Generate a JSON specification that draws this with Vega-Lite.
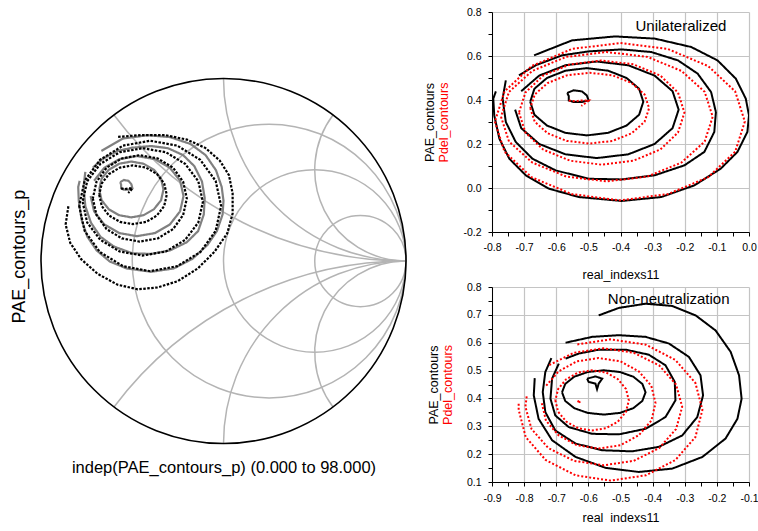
{
"$schema": "https://vega.github.io/schema/vega-lite/v6.json",
"background": "white",
"padding": {"left": 10, "top": 7, "right": 0, "bottom": 0},
"config": {
  "font": "Liberation Sans",
  "view": {"stroke": null},
  "axis": {"labelFont": "Liberation Sans", "titleFont": "Liberation Sans", "labelFontSize": 10.5, "titleFontSize": 12.5, "titleFontWeight": "normal", "labelColor": "#000", "titleColor": "#000", "tickColor": "#000", "domainColor": "#000", "domainWidth": 1, "tickWidth": 1, "tickSize": 4, "gridColor": "#c4c4c4", "gridWidth": 1.2, "labelOverlap": false, "labelFlush": false, "labelBound": false}
},
"datasets": {
  "grid": [
    {"cx": 0.25, "cy": 0, "r": 0.75, "t1": 0, "t2": 6.2832},
    {"cx": 0.5, "cy": 0, "r": 0.5, "t1": 0, "t2": 6.2832},
    {"cx": 0.75, "cy": 0, "r": 0.25, "t1": 0, "t2": 6.2832},
    {"cx": 1, "cy": 2, "r": 2, "t1": 3.1416, "t2": 4.0689},
    {"cx": 1, "cy": 1, "r": 1, "t1": 3.1416, "t2": 4.7124},
    {"cx": 1, "cy": 0.5, "r": 0.5, "t1": 3.1416, "t2": 5.3559},
    {"cx": 1, "cy": -2, "r": 2, "t1": -0.9273, "t2": 0},
    {"cx": 1, "cy": -1, "r": 1, "t1": -1.5708, "t2": 0},
    {"cx": 1, "cy": -0.5, "r": 0.5, "t1": -2.2143, "t2": 0}
  ],
  "uni": [
    {"k":"P1","s":"P","i":0,"x":-0.788,"y":0.439},{"k":"P1","s":"P","i":1,"x":-0.796,"y":0.406},{"k":"P1","s":"P","i":2,"x":-0.793,"y":0.330},{"k":"P1","s":"P","i":3,"x":-0.777,"y":0.224},{"k":"P1","s":"P","i":4,"x":-0.746,"y":0.133},{"k":"P1","s":"P","i":5,"x":-0.695,"y":0.058},{"k":"P1","s":"P","i":6,"x":-0.623,"y":-0.003},{"k":"P1","s":"P","i":7,"x":-0.530,"y":-0.041},{"k":"P1","s":"P","i":8,"x":-0.396,"y":-0.059},{"k":"P1","s":"P","i":9,"x":-0.273,"y":-0.041},{"k":"P1","s":"P","i":10,"x":-0.170,"y":0.012},{"k":"P1","s":"P","i":11,"x":-0.088,"y":0.088},{"k":"P1","s":"P","i":12,"x":-0.036,"y":0.164},{"k":"P1","s":"P","i":13,"x":-0.005,"y":0.255},{"k":"P1","s":"P","i":14,"x":0.000,"y":0.330},{"k":"P1","s":"P","i":15,"x":-0.010,"y":0.406},{"k":"P1","s":"P","i":16,"x":-0.041,"y":0.497},{"k":"P1","s":"P","i":17,"x":-0.098,"y":0.580},{"k":"P1","s":"P","i":18,"x":-0.180,"y":0.641},{"k":"P1","s":"P","i":19,"x":-0.293,"y":0.679},{"k":"P1","s":"P","i":20,"x":-0.417,"y":0.689},{"k":"P1","s":"P","i":21,"x":-0.551,"y":0.671},{"k":"P1","s":"P","i":22,"x":-0.669,"y":0.603},
    {"k":"P2","s":"P","i":0,"x":-0.757,"y":0.489},{"k":"P2","s":"P","i":1,"x":-0.767,"y":0.406},{"k":"P2","s":"P","i":2,"x":-0.757,"y":0.300},{"k":"P2","s":"P","i":3,"x":-0.726,"y":0.209},{"k":"P2","s":"P","i":4,"x":-0.674,"y":0.133},{"k":"P2","s":"P","i":5,"x":-0.602,"y":0.080},{"k":"P2","s":"P","i":6,"x":-0.499,"y":0.042},{"k":"P2","s":"P","i":7,"x":-0.396,"y":0.039},{"k":"P2","s":"P","i":8,"x":-0.293,"y":0.058},{"k":"P2","s":"P","i":9,"x":-0.201,"y":0.103},{"k":"P2","s":"P","i":10,"x":-0.139,"y":0.164},{"k":"P2","s":"P","i":11,"x":-0.108,"y":0.255},{"k":"P2","s":"P","i":12,"x":-0.103,"y":0.345},{"k":"P2","s":"P","i":13,"x":-0.118,"y":0.436},{"k":"P2","s":"P","i":14,"x":-0.160,"y":0.520},{"k":"P2","s":"P","i":15,"x":-0.221,"y":0.580},{"k":"P2","s":"P","i":16,"x":-0.304,"y":0.618},{"k":"P2","s":"P","i":17,"x":-0.396,"y":0.630},{"k":"P2","s":"P","i":18,"x":-0.499,"y":0.621},{"k":"P2","s":"P","i":19,"x":-0.582,"y":0.603},{"k":"P2","s":"P","i":20,"x":-0.664,"y":0.558},{"k":"P2","s":"P","i":21,"x":-0.716,"y":0.512},
    {"k":"P3","s":"P","i":0,"x":-0.728,"y":0.356},{"k":"P3","s":"P","i":1,"x":-0.709,"y":0.272},{"k":"P3","s":"P","i":2,"x":-0.653,"y":0.200},{"k":"P3","s":"P","i":3,"x":-0.571,"y":0.153},{"k":"P3","s":"P","i":4,"x":-0.474,"y":0.136},{"k":"P3","s":"P","i":5,"x":-0.376,"y":0.153},{"k":"P3","s":"P","i":6,"x":-0.294,"y":0.200},{"k":"P3","s":"P","i":7,"x":-0.238,"y":0.272},{"k":"P3","s":"P","i":8,"x":-0.219,"y":0.356},{"k":"P3","s":"P","i":9,"x":-0.238,"y":0.440},{"k":"P3","s":"P","i":10,"x":-0.294,"y":0.511},{"k":"P3","s":"P","i":11,"x":-0.376,"y":0.558},{"k":"P3","s":"P","i":12,"x":-0.474,"y":0.575},{"k":"P3","s":"P","i":13,"x":-0.571,"y":0.558},{"k":"P3","s":"P","i":14,"x":-0.653,"y":0.511},{"k":"P3","s":"P","i":15,"x":-0.709,"y":0.440},
    {"k":"P4","s":"P","i":0,"x":-0.681,"y":0.392},{"k":"P4","s":"P","i":1,"x":-0.668,"y":0.333},{"k":"P4","s":"P","i":2,"x":-0.629,"y":0.284},{"k":"P4","s":"P","i":3,"x":-0.572,"y":0.251},{"k":"P4","s":"P","i":4,"x":-0.505,"y":0.239},{"k":"P4","s":"P","i":5,"x":-0.438,"y":0.251},{"k":"P4","s":"P","i":6,"x":-0.381,"y":0.284},{"k":"P4","s":"P","i":7,"x":-0.342,"y":0.333},{"k":"P4","s":"P","i":8,"x":-0.329,"y":0.392},{"k":"P4","s":"P","i":9,"x":-0.342,"y":0.451},{"k":"P4","s":"P","i":10,"x":-0.381,"y":0.500},{"k":"P4","s":"P","i":11,"x":-0.438,"y":0.533},{"k":"P4","s":"P","i":12,"x":-0.505,"y":0.545},{"k":"P4","s":"P","i":13,"x":-0.572,"y":0.533},{"k":"P4","s":"P","i":14,"x":-0.629,"y":0.500},{"k":"P4","s":"P","i":15,"x":-0.668,"y":0.451},{"k":"P4","s":"P","i":16,"x":-0.681,"y":0.392},
    {"k":"P5","s":"P","i":0,"x":-0.566,"y":0.432},{"k":"P5","s":"P","i":1,"x":-0.546,"y":0.444},{"k":"P5","s":"P","i":2,"x":-0.520,"y":0.439},{"k":"P5","s":"P","i":3,"x":-0.505,"y":0.421},{"k":"P5","s":"P","i":4,"x":-0.499,"y":0.398},{"k":"P5","s":"P","i":5,"x":-0.520,"y":0.391},{"k":"P5","s":"P","i":6,"x":-0.546,"y":0.391},{"k":"P5","s":"P","i":7,"x":-0.561,"y":0.398},{"k":"P5","s":"P","i":8,"x":-0.561,"y":0.418},{"k":"P5","s":"P","i":9,"x":-0.566,"y":0.432},
    {"k":"D1","s":"D","i":0,"x":-0.791,"y":0.302},{"k":"D1","s":"D","i":1,"x":-0.761,"y":0.165},{"k":"D1","s":"D","i":2,"x":-0.677,"y":0.049},{"k":"D1","s":"D","i":3,"x":-0.551,"y":-0.028},{"k":"D1","s":"D","i":4,"x":-0.402,"y":-0.056},{"k":"D1","s":"D","i":5,"x":-0.253,"y":-0.028},{"k":"D1","s":"D","i":6,"x":-0.127,"y":0.049},{"k":"D1","s":"D","i":7,"x":-0.043,"y":0.165},{"k":"D1","s":"D","i":8,"x":-0.013,"y":0.302},{"k":"D1","s":"D","i":9,"x":-0.043,"y":0.439},{"k":"D1","s":"D","i":10,"x":-0.127,"y":0.554},{"k":"D1","s":"D","i":11,"x":-0.253,"y":0.632},{"k":"D1","s":"D","i":12,"x":-0.402,"y":0.659},{"k":"D1","s":"D","i":13,"x":-0.551,"y":0.632},{"k":"D1","s":"D","i":14,"x":-0.677,"y":0.554},{"k":"D1","s":"D","i":15,"x":-0.761,"y":0.439},{"k":"D1","s":"D","i":16,"x":-0.791,"y":0.302},
    {"k":"D2","s":"D","i":0,"x":-0.772,"y":0.324},{"k":"D2","s":"D","i":1,"x":-0.747,"y":0.211},{"k":"D2","s":"D","i":2,"x":-0.675,"y":0.116},{"k":"D2","s":"D","i":3,"x":-0.569,"y":0.052},{"k":"D2","s":"D","i":4,"x":-0.443,"y":0.030},{"k":"D2","s":"D","i":5,"x":-0.316,"y":0.052},{"k":"D2","s":"D","i":6,"x":-0.210,"y":0.116},{"k":"D2","s":"D","i":7,"x":-0.138,"y":0.211},{"k":"D2","s":"D","i":8,"x":-0.113,"y":0.324},{"k":"D2","s":"D","i":9,"x":-0.138,"y":0.437},{"k":"D2","s":"D","i":10,"x":-0.210,"y":0.532},{"k":"D2","s":"D","i":11,"x":-0.316,"y":0.596},{"k":"D2","s":"D","i":12,"x":-0.443,"y":0.618},{"k":"D2","s":"D","i":13,"x":-0.569,"y":0.596},{"k":"D2","s":"D","i":14,"x":-0.675,"y":0.532},{"k":"D2","s":"D","i":15,"x":-0.747,"y":0.437},{"k":"D2","s":"D","i":16,"x":-0.772,"y":0.324},
    {"k":"D3","s":"D","i":0,"x":-0.716,"y":0.343},{"k":"D3","s":"D","i":1,"x":-0.696,"y":0.252},{"k":"D3","s":"D","i":2,"x":-0.641,"y":0.175},{"k":"D3","s":"D","i":3,"x":-0.557,"y":0.124},{"k":"D3","s":"D","i":4,"x":-0.459,"y":0.106},{"k":"D3","s":"D","i":5,"x":-0.360,"y":0.124},{"k":"D3","s":"D","i":6,"x":-0.276,"y":0.175},{"k":"D3","s":"D","i":7,"x":-0.221,"y":0.252},{"k":"D3","s":"D","i":8,"x":-0.201,"y":0.343},{"k":"D3","s":"D","i":9,"x":-0.221,"y":0.434},{"k":"D3","s":"D","i":10,"x":-0.276,"y":0.511},{"k":"D3","s":"D","i":11,"x":-0.360,"y":0.562},{"k":"D3","s":"D","i":12,"x":-0.459,"y":0.580},{"k":"D3","s":"D","i":13,"x":-0.557,"y":0.562},{"k":"D3","s":"D","i":14,"x":-0.641,"y":0.511},{"k":"D3","s":"D","i":15,"x":-0.696,"y":0.434},{"k":"D3","s":"D","i":16,"x":-0.716,"y":0.343},
    {"k":"D4","s":"D","i":0,"x":-0.681,"y":0.363},{"k":"D4","s":"D","i":1,"x":-0.667,"y":0.301},{"k":"D4","s":"D","i":2,"x":-0.627,"y":0.249},{"k":"D4","s":"D","i":3,"x":-0.567,"y":0.214},{"k":"D4","s":"D","i":4,"x":-0.496,"y":0.202},{"k":"D4","s":"D","i":5,"x":-0.425,"y":0.214},{"k":"D4","s":"D","i":6,"x":-0.365,"y":0.249},{"k":"D4","s":"D","i":7,"x":-0.325,"y":0.301},{"k":"D4","s":"D","i":8,"x":-0.311,"y":0.363},{"k":"D4","s":"D","i":9,"x":-0.325,"y":0.425},{"k":"D4","s":"D","i":10,"x":-0.365,"y":0.477},{"k":"D4","s":"D","i":11,"x":-0.425,"y":0.512},{"k":"D4","s":"D","i":12,"x":-0.496,"y":0.524},{"k":"D4","s":"D","i":13,"x":-0.567,"y":0.512},{"k":"D4","s":"D","i":14,"x":-0.627,"y":0.477},{"k":"D4","s":"D","i":15,"x":-0.667,"y":0.425},{"k":"D4","s":"D","i":16,"x":-0.681,"y":0.363},
    {"k":"D5","s":"D","i":0,"x":-0.561,"y":0.398},{"k":"D5","s":"D","i":1,"x":-0.541,"y":0.394},{"k":"D5","s":"D","i":2,"x":-0.520,"y":0.398},{"k":"D5","s":"D","i":3,"x":-0.499,"y":0.398},{"k":"D5","s":"D","i":4,"x":-0.510,"y":0.385},{"k":"D5","s":"D","i":5,"x":-0.522,"y":0.373}
  ],
  "extra": [
    {"k":"D0","s":"D","i":0,"x":-0.85,"y":0.30},{"k":"D0","s":"D","i":1,"x":-0.865,"y":0.20},{"k":"D0","s":"D","i":2,"x":-0.84,"y":0.10},{"k":"D0","s":"D","i":3,"x":-0.78,"y":0.01},{"k":"D0","s":"D","i":4,"x":-0.69,"y":-0.07},{"k":"D0","s":"D","i":5,"x":-0.58,"y":-0.13},{"k":"D0","s":"D","i":6,"x":-0.47,"y":-0.155},{"k":"D0","s":"D","i":7,"x":-0.36,"y":-0.145},{"k":"D0","s":"D","i":8,"x":-0.25,"y":-0.11},{"k":"D0","s":"D","i":9,"x":-0.14,"y":-0.04},{"k":"D0","s":"D","i":10,"x":-0.05,"y":0.05},{"k":"D0","s":"D","i":11,"x":0.02,"y":0.15},{"k":"D0","s":"D","i":12,"x":0.05,"y":0.26},{"k":"D0","s":"D","i":13,"x":0.05,"y":0.37},{"k":"D0","s":"D","i":14,"x":0.03,"y":0.47},{"k":"D0","s":"D","i":15,"x":-0.02,"y":0.55},{"k":"D0","s":"D","i":16,"x":-0.10,"y":0.62},{"k":"D0","s":"D","i":17,"x":-0.20,"y":0.665},{"k":"D0","s":"D","i":18,"x":-0.32,"y":0.69},{"k":"D0","s":"D","i":19,"x":-0.45,"y":0.69},{"k":"D0","s":"D","i":20,"x":-0.58,"y":0.68}
  ],
  "non": [
    {"k":"P1","s":"P","i":0,"x":-0.767,"y":0.473},{"k":"P1","s":"P","i":1,"x":-0.770,"y":0.411},{"k":"P1","s":"P","i":2,"x":-0.755,"y":0.327},{"k":"P1","s":"P","i":3,"x":-0.713,"y":0.250},{"k":"P1","s":"P","i":4,"x":-0.640,"y":0.190},{"k":"P1","s":"P","i":5,"x":-0.547,"y":0.151},{"k":"P1","s":"P","i":6,"x":-0.443,"y":0.136},{"k":"P1","s":"P","i":7,"x":-0.339,"y":0.148},{"k":"P1","s":"P","i":8,"x":-0.245,"y":0.190},{"k":"P1","s":"P","i":9,"x":-0.173,"y":0.256},{"k":"P1","s":"P","i":10,"x":-0.136,"y":0.327},{"k":"P1","s":"P","i":11,"x":-0.123,"y":0.399},{"k":"P1","s":"P","i":12,"x":-0.131,"y":0.483},{"k":"P1","s":"P","i":13,"x":-0.157,"y":0.567},{"k":"P1","s":"P","i":14,"x":-0.204,"y":0.644},{"k":"P1","s":"P","i":15,"x":-0.266,"y":0.698},{"k":"P1","s":"P","i":16,"x":-0.339,"y":0.732},{"k":"P1","s":"P","i":17,"x":-0.422,"y":0.740},{"k":"P1","s":"P","i":18,"x":-0.505,"y":0.725},{"k":"P1","s":"P","i":19,"x":-0.568,"y":0.698},
    {"k":"P2","s":"P","i":0,"x":-0.715,"y":0.545},{"k":"P2","s":"P","i":1,"x":-0.734,"y":0.495},{"k":"P2","s":"P","i":2,"x":-0.742,"y":0.423},{"k":"P2","s":"P","i":3,"x":-0.734,"y":0.351},{"k":"P2","s":"P","i":4,"x":-0.703,"y":0.285},{"k":"P2","s":"P","i":5,"x":-0.640,"y":0.238},{"k":"P2","s":"P","i":6,"x":-0.557,"y":0.214},{"k":"P2","s":"P","i":7,"x":-0.464,"y":0.210},{"k":"P2","s":"P","i":8,"x":-0.381,"y":0.226},{"k":"P2","s":"P","i":9,"x":-0.308,"y":0.267},{"k":"P2","s":"P","i":10,"x":-0.261,"y":0.333},{"k":"P2","s":"P","i":11,"x":-0.243,"y":0.411},{"k":"P2","s":"P","i":12,"x":-0.251,"y":0.483},{"k":"P2","s":"P","i":13,"x":-0.287,"y":0.549},{"k":"P2","s":"P","i":14,"x":-0.349,"y":0.597},{"k":"P2","s":"P","i":15,"x":-0.422,"y":0.621},{"k":"P2","s":"P","i":16,"x":-0.505,"y":0.627},{"k":"P2","s":"P","i":17,"x":-0.588,"y":0.621},{"k":"P2","s":"P","i":18,"x":-0.671,"y":0.600},
    {"k":"P3","s":"P","i":0,"x":-0.692,"y":0.525},{"k":"P3","s":"P","i":1,"x":-0.713,"y":0.471},{"k":"P3","s":"P","i":2,"x":-0.718,"y":0.399},{"k":"P3","s":"P","i":3,"x":-0.703,"y":0.339},{"k":"P3","s":"P","i":4,"x":-0.661,"y":0.297},{"k":"P3","s":"P","i":5,"x":-0.588,"y":0.273},{"k":"P3","s":"P","i":6,"x":-0.505,"y":0.271},{"k":"P3","s":"P","i":7,"x":-0.422,"y":0.291},{"k":"P3","s":"P","i":8,"x":-0.360,"y":0.333},{"k":"P3","s":"P","i":9,"x":-0.329,"y":0.393},{"k":"P3","s":"P","i":10,"x":-0.331,"y":0.459},{"k":"P3","s":"P","i":11,"x":-0.360,"y":0.519},{"k":"P3","s":"P","i":12,"x":-0.412,"y":0.557},{"k":"P3","s":"P","i":13,"x":-0.484,"y":0.575},{"k":"P3","s":"P","i":14,"x":-0.568,"y":0.575},{"k":"P3","s":"P","i":15,"x":-0.630,"y":0.561},{"k":"P3","s":"P","i":16,"x":-0.671,"y":0.543},
    {"k":"P4","s":"P","i":0,"x":-0.682,"y":0.422},{"k":"P4","s":"P","i":1,"x":-0.672,"y":0.391},{"k":"P4","s":"P","i":2,"x":-0.644,"y":0.365},{"k":"P4","s":"P","i":3,"x":-0.602,"y":0.348},{"k":"P4","s":"P","i":4,"x":-0.552,"y":0.342},{"k":"P4","s":"P","i":5,"x":-0.502,"y":0.348},{"k":"P4","s":"P","i":6,"x":-0.460,"y":0.365},{"k":"P4","s":"P","i":7,"x":-0.432,"y":0.391},{"k":"P4","s":"P","i":8,"x":-0.422,"y":0.422},{"k":"P4","s":"P","i":9,"x":-0.432,"y":0.452},{"k":"P4","s":"P","i":10,"x":-0.460,"y":0.478},{"k":"P4","s":"P","i":11,"x":-0.502,"y":0.495},{"k":"P4","s":"P","i":12,"x":-0.552,"y":0.501},{"k":"P4","s":"P","i":13,"x":-0.602,"y":0.495},{"k":"P4","s":"P","i":14,"x":-0.644,"y":0.478},{"k":"P4","s":"P","i":15,"x":-0.672,"y":0.452},{"k":"P4","s":"P","i":16,"x":-0.682,"y":0.422},
    {"k":"P5","s":"P","i":0,"x":-0.604,"y":0.471},{"k":"P5","s":"P","i":1,"x":-0.578,"y":0.479},{"k":"P5","s":"P","i":2,"x":-0.557,"y":0.471},{"k":"P5","s":"P","i":3,"x":-0.568,"y":0.453},{"k":"P5","s":"P","i":4,"x":-0.573,"y":0.433},{"k":"P5","s":"P","i":5,"x":-0.578,"y":0.453},{"k":"P5","s":"P","i":6,"x":-0.599,"y":0.459},{"k":"P5","s":"P","i":7,"x":-0.604,"y":0.471},
    {"k":"D1","s":"D","i":0,"x":-0.817,"y":0.381},{"k":"D1","s":"D","i":1,"x":-0.817,"y":0.359},{"k":"D1","s":"D","i":2,"x":-0.795,"y":0.261},{"k":"D1","s":"D","i":3,"x":-0.733,"y":0.179},{"k":"D1","s":"D","i":4,"x":-0.640,"y":0.124},{"k":"D1","s":"D","i":5,"x":-0.531,"y":0.105},{"k":"D1","s":"D","i":6,"x":-0.421,"y":0.124},{"k":"D1","s":"D","i":7,"x":-0.329,"y":0.179},{"k":"D1","s":"D","i":8,"x":-0.267,"y":0.261},{"k":"D1","s":"D","i":9,"x":-0.245,"y":0.359},{"k":"D1","s":"D","i":10,"x":-0.267,"y":0.456},{"k":"D1","s":"D","i":11,"x":-0.329,"y":0.538},{"k":"D1","s":"D","i":12,"x":-0.421,"y":0.593},{"k":"D1","s":"D","i":13,"x":-0.531,"y":0.612},{"k":"D1","s":"D","i":14,"x":-0.640,"y":0.593},
    {"k":"D2","s":"D","i":0,"x":-0.792,"y":0.407},{"k":"D2","s":"D","i":1,"x":-0.796,"y":0.370},{"k":"D2","s":"D","i":2,"x":-0.777,"y":0.290},{"k":"D2","s":"D","i":3,"x":-0.725,"y":0.222},{"k":"D2","s":"D","i":4,"x":-0.645,"y":0.176},{"k":"D2","s":"D","i":5,"x":-0.552,"y":0.160},{"k":"D2","s":"D","i":6,"x":-0.459,"y":0.176},{"k":"D2","s":"D","i":7,"x":-0.379,"y":0.222},{"k":"D2","s":"D","i":8,"x":-0.327,"y":0.290},{"k":"D2","s":"D","i":9,"x":-0.308,"y":0.370},{"k":"D2","s":"D","i":10,"x":-0.327,"y":0.450},{"k":"D2","s":"D","i":11,"x":-0.379,"y":0.518},{"k":"D2","s":"D","i":12,"x":-0.459,"y":0.564},{"k":"D2","s":"D","i":13,"x":-0.552,"y":0.580},{"k":"D2","s":"D","i":14,"x":-0.645,"y":0.564},{"k":"D2","s":"D","i":15,"x":-0.725,"y":0.518},
    {"k":"D3","s":"D","i":0,"x":-0.745,"y":0.383},{"k":"D3","s":"D","i":1,"x":-0.732,"y":0.320},{"k":"D3","s":"D","i":2,"x":-0.693,"y":0.268},{"k":"D3","s":"D","i":3,"x":-0.636,"y":0.232},{"k":"D3","s":"D","i":4,"x":-0.568,"y":0.220},{"k":"D3","s":"D","i":5,"x":-0.500,"y":0.232},{"k":"D3","s":"D","i":6,"x":-0.443,"y":0.268},{"k":"D3","s":"D","i":7,"x":-0.404,"y":0.320},{"k":"D3","s":"D","i":8,"x":-0.391,"y":0.383},{"k":"D3","s":"D","i":9,"x":-0.404,"y":0.445},{"k":"D3","s":"D","i":10,"x":-0.443,"y":0.497},{"k":"D3","s":"D","i":11,"x":-0.500,"y":0.533},{"k":"D3","s":"D","i":12,"x":-0.568,"y":0.545},{"k":"D3","s":"D","i":13,"x":-0.636,"y":0.533},{"k":"D3","s":"D","i":14,"x":-0.693,"y":0.497},{"k":"D3","s":"D","i":15,"x":-0.732,"y":0.445},
    {"k":"D4","s":"D","i":0,"x":-0.703,"y":0.393},{"k":"D4","s":"D","i":1,"x":-0.694,"y":0.352},{"k":"D4","s":"D","i":2,"x":-0.669,"y":0.317},{"k":"D4","s":"D","i":3,"x":-0.632,"y":0.293},{"k":"D4","s":"D","i":4,"x":-0.589,"y":0.285},{"k":"D4","s":"D","i":5,"x":-0.545,"y":0.293},{"k":"D4","s":"D","i":6,"x":-0.508,"y":0.317},{"k":"D4","s":"D","i":7,"x":-0.483,"y":0.352},{"k":"D4","s":"D","i":8,"x":-0.474,"y":0.393},{"k":"D4","s":"D","i":9,"x":-0.483,"y":0.434},{"k":"D4","s":"D","i":10,"x":-0.508,"y":0.469},{"k":"D4","s":"D","i":11,"x":-0.545,"y":0.493},{"k":"D4","s":"D","i":12,"x":-0.589,"y":0.501},{"k":"D4","s":"D","i":13,"x":-0.632,"y":0.493},{"k":"D4","s":"D","i":14,"x":-0.669,"y":0.469},{"k":"D4","s":"D","i":15,"x":-0.694,"y":0.434},{"k":"D4","s":"D","i":16,"x":-0.703,"y":0.393},
    {"k":"D5","s":"D","i":0,"x":-0.634,"y":0.388},{"k":"D5","s":"D","i":1,"x":-0.628,"y":0.392},{"k":"D5","s":"D","i":2,"x":-0.624,"y":0.389},{"k":"D5","s":"D","i":3,"x":-0.630,"y":0.386}
  ]
},
"spacing": 13,
"resolve": {"scale": {"x": "independent", "y": "independent", "color": "independent", "strokeDash": "independent"}},
"hconcat": [
  {
    "width": 365, "height": 431.5,
    "layer": [
      {"data": {"name": "grid"},
       "mark": {"type": "arc", "filled": false, "stroke": "#b4b4b4", "strokeWidth": 1.5},
       "encoding": {
         "x": {"field": "cx", "type": "quantitative", "title": "indep(PAE_contours_p) (0.000 to 98.000)", "scale": {"domain": [-1, 1], "nice": false, "zero": false}, "axis": {"titleFontSize": 16.5, "titlePadding": 15.5, "domain": false, "ticks": false, "labels": false, "grid": false}},
         "y": {"field": "cy", "type": "quantitative", "title": "PAE_contours_p", "scale": {"domain": [-1, 1.3644], "nice": false, "zero": false}, "axis": {"titleFontSize": 18, "titlePadding": 13, "titleY": 244, "domain": false, "ticks": false, "labels": false, "grid": false}},
         "theta": {"field": "t1", "type": "quantitative", "scale": null, "stack": null},
         "theta2": {"field": "t2"},
         "radius": {"field": "r", "type": "quantitative", "scale": {"type": "linear", "domain": [0, 1], "range": [0, 182.5], "zero": true}},
         "radius2": {"field": "r"}
       }},
      {"data": {"name": "uni"},
       "mark": {"type": "line", "strokeWidth": 2.2},
       "encoding": {
         "x": {"field": "x", "type": "quantitative", "title": "indep(PAE_contours_p) (0.000 to 98.000)"},
         "y": {"field": "y", "type": "quantitative", "title": "PAE_contours_p"},
         "color": {"field": "s", "type": "nominal", "scale": {"domain": ["P", "D"], "range": ["#808080", "#000000"]}, "legend": null},
         "strokeDash": {"field": "s", "type": "nominal", "scale": {"domain": ["P", "D"], "range": [[1, 0], [2.5, 1.5]]}, "legend": null},
         "detail": {"field": "k"},
         "order": {"field": "i", "type": "quantitative"}
       }},
      {"data": {"name": "extra"},
       "mark": {"type": "line", "strokeWidth": 2.2},
       "encoding": {
         "x": {"field": "x", "type": "quantitative", "title": "indep(PAE_contours_p) (0.000 to 98.000)"},
         "y": {"field": "y", "type": "quantitative", "title": "PAE_contours_p"},
         "color": {"field": "s", "type": "nominal", "legend": null},
         "strokeDash": {"field": "s", "type": "nominal", "legend": null},
         "detail": {"field": "k"},
         "order": {"field": "i", "type": "quantitative"}
       }},
      {"data": {"values": [{"cx": 0, "cy": 0, "r": 1, "t1": 0, "t2": 6.2832}]},
       "mark": {"type": "arc", "filled": false, "stroke": "#000000", "strokeWidth": 1.6},
       "encoding": {
         "x": {"field": "cx", "type": "quantitative", "title": "indep(PAE_contours_p) (0.000 to 98.000)"},
         "y": {"field": "cy", "type": "quantitative", "title": "PAE_contours_p"},
         "theta": {"field": "t1", "type": "quantitative", "scale": null, "stack": null},
         "theta2": {"field": "t2"},
         "radius": {"field": "r", "type": "quantitative"},
         "radius2": {"field": "r"}
       }},
      {"mark": {"type": "rule", "color": "#000000", "strokeWidth": 1.6},
       "encoding": {"x": {"datum": -1}, "x2": {"datum": 1}, "y": {"datum": 0}}}
    ]
  },
  {
    "spacing": 1,
    "resolve": {"scale": {"x": "independent", "y": "independent"}},
    "vconcat": [
      {
        "width": 257, "height": 220,
        "resolve": {"axis": {"x": "independent", "y": "independent"}},
        "layer": [
          {"data": {"name": "uni"},
           "mark": {"type": "line", "strokeWidth": 2, "clip": true},
           "encoding": {
             "x": {"field": "x", "type": "quantitative", "title": "real_indexs11", "scale": {"domain": [-0.8, 0], "nice": false, "zero": false},
                   "axis": {"orient": "bottom", "values": [-0.8,-0.7,-0.6,-0.5,-0.4,-0.3,-0.2,-0.1,0],
                            "labelExpr": "replace(format(datum.value,'.1f'),'\u2212','-')",
                            "labelOverlap": false, "grid": true,
                            "labelPadding": 6, "titlePadding": 16}},
             "y": {"field": "y", "type": "quantitative", "title": "Pdel_contours", "scale": {"domain": [-0.2, 0.8], "nice": false, "zero": false},
                   "axis": {"orient": "left", "values": [-0.2,-0.1,0,0.1,0.2,0.3,0.4,0.5,0.6,0.7,0.8],
                            "labelExpr": "(abs(datum.value*10-round(datum.value*10))>0.01 || abs(round(datum.value*10))%2==1) ? '' : replace(format(datum.value,'.1f'),'\u2212','-')",
                            "labelOverlap": false,
                            "grid": true, "gridOpacity": {"condition": {"test": "abs(datum.value*10-round(datum.value*10))>0.01 || abs(round(datum.value*10))%2==1", "value": 0}, "value": 1},
                            "labelPadding": 7, "titlePadding": 12, "titleColor": "#ff0000"}},
             "color": {"field": "s", "type": "nominal", "scale": {"domain": ["P", "D"], "range": ["#000000", "#ff0000"]}, "legend": null},
             "strokeDash": {"field": "s", "type": "nominal", "scale": {"domain": ["P", "D"], "range": [[1, 0], [2, 2]]}, "legend": null},
             "detail": {"field": "k"},
             "order": {"field": "i", "type": "quantitative"}
           }},
          {"data": {"values": [{"t": "Unilateralized", "x": -0.212, "y": 0.735}]},
           "mark": {"type": "text", "fontSize": 15, "font": "Liberation Sans", "color": "#000000"},
           "encoding": {
             "x": {"field": "x", "type": "quantitative", "title": null, "axis": {"orient": "bottom", "values": [-0.75,-0.65,-0.55,-0.45,-0.35,-0.25,-0.15,-0.05], "labels": false, "domain": false, "grid": false, "ticks": true}},
             "y": {"field": "y", "type": "quantitative", "title": "PAE_contours", "axis": {"orient": "left", "labels": false, "ticks": false, "domain": false, "grid": false, "offset": 52, "titlePadding": 4}},
             "text": {"field": "t"}
           }}
        ]
      },
      {
        "width": 257, "height": 195,
        "resolve": {"axis": {"x": "independent", "y": "independent"}},
        "layer": [
          {"data": {"name": "non"},
           "mark": {"type": "line", "strokeWidth": 2, "clip": true},
           "encoding": {
             "x": {"field": "x", "type": "quantitative", "title": "real_indexs11", "scale": {"domain": [-0.9, -0.1], "nice": false, "zero": false},
                   "axis": {"orient": "bottom", "values": [-0.9,-0.8,-0.7,-0.6,-0.5,-0.4,-0.3,-0.2,-0.1],
                            "labelExpr": "replace(format(datum.value,'.1f'),'\u2212','-')",
                            "labelOverlap": false, "grid": true,
                            "labelPadding": 7, "titlePadding": 8}},
             "y": {"field": "y", "type": "quantitative", "title": "Pdel_contours", "scale": {"domain": [0.1, 0.8], "nice": false, "zero": false},
                   "axis": {"orient": "left", "values": [0.1,0.15,0.2,0.25,0.3,0.35,0.4,0.45,0.5,0.55,0.6,0.65,0.7,0.75,0.8],
                            "labelExpr": "abs(datum.value*10-round(datum.value*10))>0.01 ? '' : format(datum.value,'.1f')",
                            "labelOverlap": false,
                            "grid": true, "gridOpacity": {"condition": {"test": "abs(datum.value*10-round(datum.value*10))>0.01", "value": 0}, "value": 1},
                            "labelPadding": 7, "titlePadding": 12, "titleColor": "#ff0000"}},
             "color": {"field": "s", "type": "nominal", "scale": {"domain": ["P", "D"], "range": ["#000000", "#ff0000"]}, "legend": null},
             "strokeDash": {"field": "s", "type": "nominal", "scale": {"domain": ["P", "D"], "range": [[1, 0], [2, 2]]}, "legend": null},
             "detail": {"field": "k"},
             "order": {"field": "i", "type": "quantitative"}
           }},
          {"data": {"values": [{"t": "Non-neutralization", "x": -0.35, "y": 0.757}]},
           "mark": {"type": "text", "fontSize": 15, "font": "Liberation Sans", "color": "#000000"},
           "encoding": {
             "x": {"field": "x", "type": "quantitative", "title": null, "axis": {"orient": "bottom", "values": [-0.85,-0.75,-0.65,-0.55,-0.45,-0.35,-0.25,-0.15], "labels": false, "domain": false, "grid": false, "ticks": true}},
             "y": {"field": "y", "type": "quantitative", "title": "PAE_contours", "axis": {"orient": "left", "labels": false, "ticks": false, "domain": false, "grid": false, "offset": 48, "titlePadding": 4}},
             "text": {"field": "t"}
           }}
        ]
      }
    ]
  }
]
}
